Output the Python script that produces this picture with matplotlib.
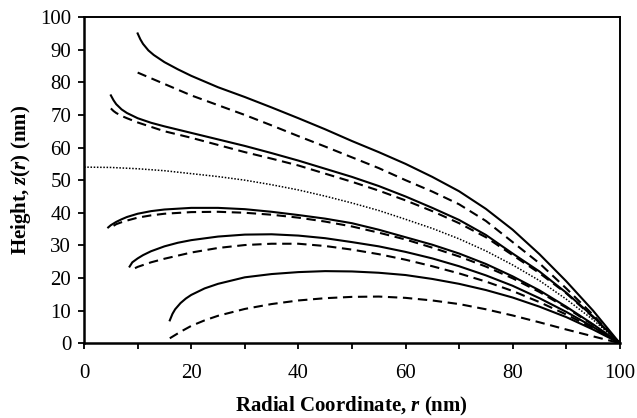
import matplotlib
matplotlib.use('Agg')
import matplotlib.pyplot as plt
from matplotlib.ticker import MultipleLocator

plt.rcParams['font.family'] = ['Liberation Serif', 'DejaVu Serif']
plt.rcParams['mathtext.fontset'] = 'custom'
plt.rcParams['mathtext.rm'] = 'Liberation Serif'
plt.rcParams['mathtext.bf'] = 'Liberation Serif:bold'
plt.rcParams['mathtext.bfit'] = 'Liberation Serif:italic:bold'
plt.rcParams['mathtext.it'] = 'Liberation Serif:italic'

# profiles: radial coordinate r (nm) -> height z (nm)
r1_solid = [10, 10.5, 11, 12, 13, 15, 17.5, 20, 25, 30, 35, 40, 45, 50, 55, 60,
            65, 70, 75, 80, 85, 90, 95, 100]
z1_solid = [95, 93.2, 91.8, 89.8, 88.4, 86.2, 84, 82, 78.5, 75.5, 72.3, 69, 65.6,
            62, 58.6, 55, 51, 46.6, 41.2, 34.8, 27.3, 19, 10, 0]
r1_dash = [10, 15, 20, 25, 30, 35, 40, 45, 50, 55, 60, 65, 70, 75, 80, 85, 90, 95, 100]
z1_dash = [83, 79.5, 76, 73, 70, 66.8, 63.5, 60.3, 57, 53.7, 50, 46.5, 42.6, 37.5,
           31, 24.5, 16.8, 8.7, 0]

r2_solid = [5, 5.5, 6, 7, 8, 10, 12.5, 15, 20, 25, 30, 35, 40, 45, 50, 55, 60,
            65, 70, 75, 80, 85, 90, 95, 100]
z2_solid = [76, 74.5, 73.3, 71.7, 70.6, 69, 67.6, 66.5, 64.5, 62.5, 60.5, 58.3, 56,
            53.5, 51, 48.2, 45, 41.5, 37.8, 33.2, 27.5, 22, 15.5, 8.2, 0]
r2_dash = [5, 5.5, 6, 7, 8, 10, 15, 20, 25, 30, 35, 40, 45, 50, 55, 60, 65, 70,
           75, 80, 85, 90, 95, 100]
z2_dash = [72, 71.2, 70.6, 69.7, 69, 67.7, 65, 63, 60.8, 58.6, 56.6, 54.5, 52,
           49.5, 46.8, 43.8, 40.5, 36.8, 32.5, 27, 21.5, 15.3, 8, 0]

r_dot = [0, 5, 10, 15, 20, 25, 30, 35, 40, 45, 50, 55, 60, 65, 70, 75, 80, 85,
         90, 95, 100]
z_dot = [54, 53.9, 53.5, 52.9, 52, 51.1, 50, 48.6, 47, 45.1, 43, 40.7, 38, 35.2,
         32, 28.3, 24, 19.2, 13.5, 7.2, 0]

r3_solid = [4.5, 5, 6, 7, 8, 10, 12.5, 15, 20, 25, 30, 35, 40, 45, 50, 55, 60,
            65, 70, 75, 80, 85, 90, 95, 100]
z3_solid = [35.5, 36.2, 37.2, 38, 38.7, 39.7, 40.5, 41, 41.5, 41.5, 41.1, 40.3,
            39.3, 38.2, 36.8, 34.8, 32.5, 30.2, 27.5, 24.3, 20.5, 16.2, 11.2, 5.8, 0]
r3_dash = [5.5, 6, 7, 8, 10, 12.5, 15, 20, 25, 30, 35, 40, 45, 50, 55, 60, 65,
           70, 75, 80, 85, 90, 95, 100]
z3_dash = [36, 36.5, 37.1, 37.6, 38.5, 39.2, 39.7, 40.2, 40.3, 40, 39.4, 38.5,
           37.3, 35.8, 33.9, 31.8, 29.3, 26.6, 23.5, 19.9, 15.7, 10.9, 5.6, 0]

r4_solid = [8.5, 9, 10, 11, 12.5, 15, 17.5, 20, 25, 30, 35, 40, 45, 50, 55, 60,
            65, 70, 75, 80, 85, 90, 95, 100]
z4_solid = [23.5, 24.8, 26, 27, 28.2, 29.7, 30.8, 31.6, 32.7, 33.3, 33.4, 33,
            32.2, 31, 29.7, 28, 26, 23.6, 20.8, 17.6, 13.8, 9.6, 5, 0]
r4_dash = [9.5, 10, 12.5, 15, 20, 25, 30, 35, 40, 45, 50, 55, 60, 65, 70, 75,
           80, 85, 90, 95, 100]
z4_dash = [23, 23.4, 24.8, 25.9, 27.8, 29.2, 30.1, 30.5, 30.5, 29.8, 28.7, 27.3,
           25.6, 23.6, 21.4, 18.9, 16, 12.6, 8.8, 4.6, 0]

r5_solid = [16, 16.5, 17, 18, 19, 20, 22.5, 25, 30, 35, 40, 45, 50, 55, 60, 65,
            70, 75, 80, 85, 90, 95, 100]
z5_solid = [7, 9, 10.4, 12.3, 13.7, 14.8, 16.8, 18.2, 20.2, 21.2, 21.8, 22.1, 22,
            21.6, 20.9, 19.7, 18.2, 16.3, 14, 11.2, 8, 4.2, 0]
r5_dash = [16, 17, 18, 20, 22.5, 25, 30, 35, 40, 45, 50, 55, 60, 65, 70, 75, 80,
           85, 90, 95, 100]
z5_dash = [1.5, 2.5, 3.5, 5.3, 7, 8.4, 10.5, 12, 13.1, 13.8, 14.2, 14.3, 13.9,
           13.1, 12, 10.4, 8.5, 6.4, 4.2, 2.1, 0]

fig = plt.figure(figsize=(6.37, 4.18), dpi=100)
ax = fig.add_axes([0.132, 0.179, 0.841, 0.780])

solid_kw = dict(color='black', lw=1.5, linestyle='-')
dash_kw = dict(color='black', lw=1.5, dashes=(4.5, 2.7))

ax.plot(r1_solid, z1_solid, **solid_kw)
ax.plot(r1_dash, z1_dash, **dash_kw)
ax.plot(r2_solid, z2_solid, **solid_kw)
ax.plot(r2_dash, z2_dash, **dash_kw)
ax.plot(r_dot, z_dot, color='black', lw=1.1, linestyle=(0, (1, 1.1)))
ax.plot(r3_solid, z3_solid, **solid_kw)
ax.plot(r3_dash, z3_dash, **dash_kw)
ax.plot(r4_solid, z4_solid, **solid_kw)
ax.plot(r4_dash, z4_dash, **dash_kw)
ax.plot(r5_solid, z5_solid, **solid_kw)
ax.plot(r5_dash, z5_dash, **dash_kw)

ax.set_xlim(0, 100)
ax.set_ylim(0, 100)
ax.xaxis.set_major_locator(MultipleLocator(20))
ax.xaxis.set_minor_locator(MultipleLocator(10))
ax.yaxis.set_major_locator(MultipleLocator(10))
ax.tick_params(axis='x', which='both', direction='out', length=4.3, width=1.3,
               labelsize=15, pad=11, top=False)
ax.tick_params(axis='y', direction='out', length=4.3, width=1.3,
               labelsize=15, pad=5, right=False)
for s in ax.spines.values():
    s.set_linewidth(1.4)
ax.spines['left'].set_linewidth(1.8)
ax.spines['bottom'].set_linewidth(1.8)

ax.set_xlabel(r'Radial Coordinate, $\mathbfit{r}$ (nm)', fontsize=15,
              fontweight='bold', labelpad=8)
ax.set_ylabel(r'Height, $\mathbfit{z}\mathbf{(}\mathbfit{r}\mathbf{)}$ (nm)',
              fontsize=15, fontweight='bold', labelpad=5)

fig.savefig('out.png', dpi=100)
